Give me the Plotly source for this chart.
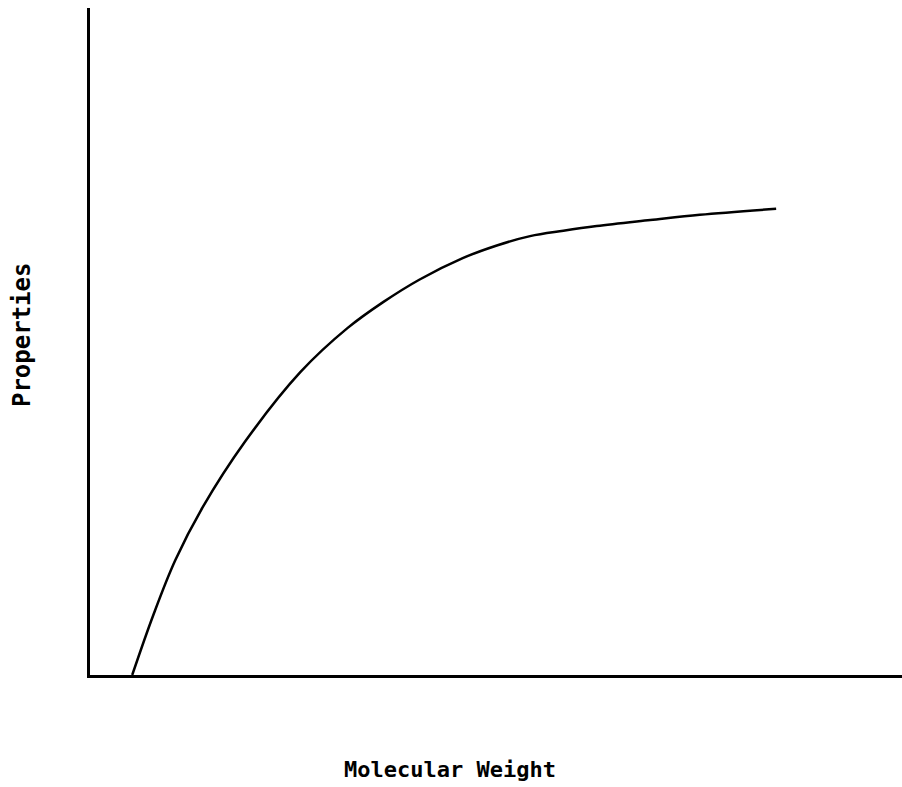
import plotly.graph_objects as go

# Curve values (arbitrary units, 0-100 on both axes)
molecular_weight = [5.2, 7.8, 10.5, 13.9, 19.1, 25.9, 31.7, 36.1, 40.6,
                    45.9, 50.1, 54.2, 58.3, 62.4, 69.0, 75.1, 84.5]
properties = [0.0, 9.0, 17.2, 25.2, 35.0, 45.4, 52.0, 55.9, 59.3,
              62.5, 64.4, 65.8, 66.6, 67.3, 68.2, 69.0, 69.9]

x_title = "Molecular Weight"
y_title = "Properties"

fig = go.Figure()
fig.add_trace(go.Scatter(
    x=molecular_weight, y=properties, mode="lines",
    line=dict(color="black", width=2.5, shape="spline", smoothing=1.0),
    hoverinfo="skip", showlegend=False,
))

fig.update_layout(
    width=902, height=787,
    margin=dict(l=90, r=0, t=8, b=112),
    paper_bgcolor="white", plot_bgcolor="white",
    xaxis=dict(range=[0, 100], showline=True, linecolor="black", linewidth=3,
               showgrid=False, zeroline=False, showticklabels=False, ticks=""),
    yaxis=dict(range=[0, 100], showline=True, linecolor="black", linewidth=3,
               showgrid=False, zeroline=False, showticklabels=False, ticks=""),
    annotations=[
        dict(text=x_title, xref="paper", yref="paper", x=0.4433, y=-0.1424,
             xanchor="center", yanchor="middle", showarrow=False,
             font=dict(family="DejaVu Sans Mono", size=22, color="black", weight="bold")),
        dict(text=y_title, xref="paper", yref="paper", x=-0.0837, y=0.5097,
             xanchor="center", yanchor="middle", showarrow=False, textangle=-90,
             font=dict(family="DejaVu Sans Mono", size=24, color="black", weight="bold")),
    ],
)

fig.write_html(
    "out.html",
    config={"displayModeBar": False},
    post_script="document.body.style.margin='0';document.body.style.overflow='hidden';",
)
